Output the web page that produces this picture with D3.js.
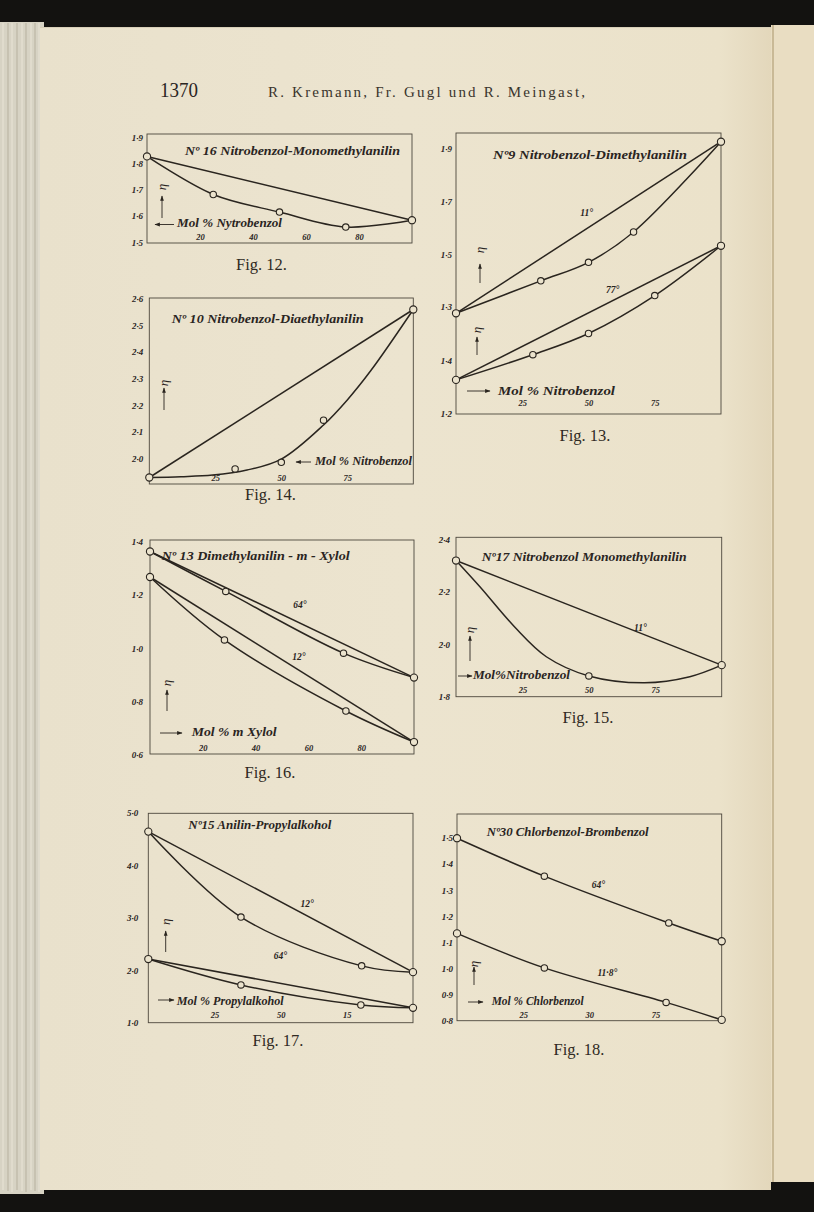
<!DOCTYPE html>
<html><head><meta charset="utf-8">
<script src="https://cdn.jsdelivr.net/npm/d3@7"></script>
<style>
body{margin:0;background:#141210;}
svg{display:block;}
</style>
</head><body>
<svg id="c" width="814" height="1212"></svg>
<script>
// ---------------- DATA (read from the scanned page) ----------------
// Fig. 12  — Nº 16 Nitrobenzol-Monomethylanilin
const fig12X   = [0, 25, 50, 75, 100];
const fig12Eta = [1.826, 1.681, 1.614, 1.557, 1.583];
const fig12YTicks = [1.5, 1.6, 1.7, 1.8, 1.9];
const fig12YLabels = ["1·5", "1·6", "1·7", "1·8", "1·9"];
const fig12XTicks = [20, 40, 60, 80];
const fig12XLabels = ["20", "40", "60", "80"];

// Fig. 13 — Nº9 Nitrobenzol-Dimethylanilin (two temperatures, two printed scales)
const fig13X11   = [0, 32, 50, 67, 100];
const fig13Eta11 = [1.275, 1.398, 1.468, 1.583, 1.925];
const fig13X77   = [0, 29, 50, 75, 100];
const fig13Eta77 = [1.325, 1.42, 1.50, 1.643, 1.831];
const fig13YTicksHigh = [1.3, 1.5, 1.7, 1.9];
const fig13YLabelsHigh = ["1·3", "1·5", "1·7", "1·9"];
const fig13YTicksLow = [1.2, 1.4];
const fig13YLabelsLow = ["1·2", "1·4"];
const fig13XTicks = [25, 50, 75];
const fig13XLabels = ["25", "50", "75"];

// Fig. 14 — Nº 10 Nitrobenzol-Diaethylanilin
const fig14X   = [0, 32.5, 50, 66, 100];
const fig14Eta = [1.928, 1.96, 1.985, 2.143, 2.558];
const fig14CurveX   = [0, 12, 24, 37, 50, 66, 75, 84, 100];
const fig14CurveEta = [1.928, 1.931, 1.937, 1.956, 1.997, 2.125, 2.219, 2.33, 2.558];
const fig14YTicks = [2.0, 2.1, 2.2, 2.3, 2.4, 2.5, 2.6];
const fig14YLabels = ["2·0", "2·1", "2·2", "2·3", "2·4", "2·5", "2·6"];
const fig14XTicks = [25, 50, 75];
const fig14XLabels = ["25", "50", "75"];

// Fig. 15 — Nº17 Nitrobenzol Monomethylanilin
const fig15X   = [0, 50, 100];
const fig15Eta = [2.318, 1.879, 1.92];
const fig15CurveX   = [0, 9, 22, 34, 50, 71, 88, 100];
const fig15CurveEta = [2.318, 2.218, 2.066, 1.952, 1.879, 1.853, 1.876, 1.92];
const fig15YTicks = [1.8, 2.0, 2.2, 2.4];
const fig15YLabels = ["1·8", "2·0", "2·2", "2·4"];
const fig15XTicks = [25, 50, 75];
const fig15XLabels = ["25", "50", "75"];

// Fig. 16 — Nº 13 Dimethylanilin - m - Xylol
const fig16X64   = [0, 28.7, 73.3, 100];
const fig16Eta64 = [1.363, 1.2125, 0.98, 0.888];
const fig16X12   = [0, 28.2, 74.2, 100];
const fig16Eta12 = [1.267, 1.030, 0.762, 0.645];
const fig16YTicks = [0.6, 0.8, 1.0, 1.2, 1.4];
const fig16YLabels = ["0·6", "0·8", "1·0", "1·2", "1·4"];
const fig16XTicks = [20, 40, 60, 80];
const fig16XLabels = ["20", "40", "60", "80"];

// Fig. 17 — Nº15 Anilin-Propylalkohol
const fig17X12   = [0, 35, 80.6, 100];
const fig17Eta12 = [4.64, 3.01, 2.08, 1.96];
const fig17X64   = [0, 35, 80.3, 100];
const fig17Eta64 = [2.21, 1.716, 1.334, 1.28];
const fig17YTicks = [1, 2, 3, 4, 5];
const fig17YLabels = ["1·0", "2·0", "3·0", "4·0", "5·0"];
const fig17XTicks = [25, 50, 75];
const fig17XLabels = ["25", "50", "15"];

// Fig. 18 — Nº30 Chlorbenzol-Brombenzol
const fig18X64   = [0, 33, 80, 100];
const fig18Eta64 = [1.498, 1.353, 1.174, 1.104];
const fig18X118   = [0, 33, 79, 100];
const fig18Eta118 = [1.134, 1.002, 0.870, 0.803];
const fig18YTicks = [0.8, 0.9, 1.0, 1.1, 1.2, 1.3, 1.4, 1.5];
const fig18YLabels = ["0·8", "0·9", "1·0", "1·1", "1·2", "1·3", "1·4", "1·5"];
const fig18XTicks = [25, 50, 75];
const fig18XLabels = ["25", "30", "75"];

// ---------------- PAGE ----------------
const INK = "#2a251f";
const BOX = "#4d473d";
const PAPER = "#ebe3cd";
const FONT = '"Liberation Serif","DejaVu Serif",serif';

const svg = d3.select("#c");
const defs = svg.append("defs");
defs.append("marker").attr("id", "ah").attr("viewBox", "0 0 10 10")
  .attr("refX", 9).attr("refY", 5).attr("markerWidth", 6).attr("markerHeight", 6)
  .attr("orient", "auto")
  .append("path").attr("d", "M0,1.5 L10,5 L0,8.5 Z").attr("fill", INK);
const pg = defs.append("linearGradient").attr("id", "pg").attr("x1", 0).attr("x2", 1);
pg.append("stop").attr("offset", "0%").attr("stop-color", "#e9e1cc");
pg.append("stop").attr("offset", "50%").attr("stop-color", "#ece4cf");
pg.append("stop").attr("offset", "93%").attr("stop-color", "#ebe2ca");
pg.append("stop").attr("offset", "100%").attr("stop-color", "#e3d7bb");

// dark surround
svg.append("rect").attr("width", 814).attr("height", 1212).attr("fill", "#131210");
// stacked page edges on the left
svg.append("rect").attr("x", 0).attr("y", 22).attr("width", 44).attr("height", 1172).attr("fill", "#d7d3c4");
[3, 8, 12, 17, 22, 26, 31, 35, 39].forEach((lx, i) => {
  svg.append("line").attr("x1", lx).attr("x2", lx).attr("y1", 23).attr("y2", 1190 + (i % 3))
    .attr("stroke", i % 2 ? "#bcb7a6" : "#e6e2d4").attr("stroke-width", 1.2);
});
// right neighbouring page
svg.append("rect").attr("x", 771).attr("y", 25).attr("width", 43).attr("height", 1157).attr("fill", "#e9ddc2");
svg.append("line").attr("x1", 773).attr("x2", 773).attr("y1", 25).attr("y2", 1182).attr("stroke", "#c9b996").attr("stroke-width", 2);
// main page
svg.append("rect").attr("x", 40).attr("y", 27).attr("width", 731).attr("height", 1163).attr("fill", "url(#pg)");
svg.append("line").attr("x1", 40).attr("x2", 771).attr("y1", 27.5).attr("y2", 27.5).attr("stroke", "#d8cfb8").attr("stroke-width", 1);

// header
svg.append("text").attr("x", 160).attr("y", 97).attr("font-family", FONT).attr("font-size", 20)
  .attr("fill", INK).attr("textLength", 38).attr("lengthAdjust", "spacingAndGlyphs").text("1370");
svg.append("text").attr("x", 268).attr("y", 97).attr("font-family", FONT).attr("font-size", 15)
  .attr("fill", "#3a342c").attr("textLength", 317).attr("lengthAdjust", "spacing")
  .text("R. Kremann, Fr. Gugl und R. Meingast,");

// ---------------- PANELS ----------------
const panels = [
  { box: { l: 147, r: 412, t: 134, b: 243 },
    y: { m: { domain: [1.5, 1.9], range: [242, 137] } },
    yTicks: [{ scale: "m", values: fig12YTicks, labels: fig12YLabels }], yGap: 4,
    xTicks: { values: fig12XTicks, labels: fig12XLabels, offset: 6 },
    series: [{ scale: "m", x: fig12X, y: fig12Eta, straight: true }],
    temps: [],
    title: { text: "Nº 16 Nitrobenzol-Monomethylanilin", x: 185, y: 155, w: 215 },
    axis: { text: "Mol % Nytrobenzol", x: 177, y: 227, w: 105, a1: 174, a2: 155, ay: 224.5 },
    etas: [{ x: 162, y: 187, a1: 218, a2: 196 }],
    caption: { text: "Fig. 12.", x: 261.5, y: 270 } },

  { box: { l: 456, r: 721, t: 133, b: 414 },
    y: { h: { domain: [1.3, 1.9], range: [306.7, 148.3] }, l: { domain: [1.2, 1.4], range: [413, 360] } },
    yTicks: [{ scale: "h", values: fig13YTicksHigh, labels: fig13YLabelsHigh },
             { scale: "l", values: fig13YTicksLow, labels: fig13YLabelsLow }], yGap: 4,
    xTicks: { values: fig13XTicks, labels: fig13XLabels, offset: 11 },
    series: [{ scale: "h", x: fig13X11, y: fig13Eta11, straight: true },
             { scale: "l", x: fig13X77, y: fig13Eta77, straight: true }],
    temps: [{ text: "11°", x: 49.3, y: 1.657, scale: "h" }, { text: "77°", x: 59.1, y: 1.664, scale: "l" }],
    title: { text: "Nº9 Nitrobenzol-Dimethylanilin", x: 493, y: 159, w: 194 },
    axis: { text: "Mol % Nitrobenzol", x: 498, y: 394.5, w: 117, a1: 467, a2: 490, ay: 391, fs: 11.5 },
    etas: [{ x: 480, y: 250, a1: 283, a2: 264 }, { x: 477, y: 330, a1: 355, a2: 337 }],
    caption: { text: "Fig. 13.", x: 585, y: 441 } },

  { box: { l: 149.3, r: 413.3, t: 298, b: 484 },
    y: { m: { domain: [2.0, 2.6], range: [458.3, 298.3] } },
    yTicks: [{ scale: "m", values: fig14YTicks, labels: fig14YLabels }], yGap: 6,
    xTicks: { values: fig14XTicks, labels: fig14XLabels, offset: 6 },
    series: [{ scale: "m", x: fig14X, y: fig14Eta, cx: fig14CurveX, cy: fig14CurveEta, straight: true }],
    temps: [],
    title: { text: "Nº 10 Nitrobenzol-Diaethylanilin", x: 171.7, y: 323, w: 192 },
    axis: { text: "Mol % Nitrobenzol", x: 315, y: 465, w: 97, a1: 311, a2: 296, ay: 462 },
    etas: [{ x: 164, y: 383, a1: 410, a2: 388 }],
    caption: { text: "Fig. 14.", x: 270.5, y: 500 } },

  { box: { l: 456, r: 721.7, t: 537.3, b: 696.7 },
    y: { m: { domain: [1.8, 2.4], range: [696.7, 539] } },
    yTicks: [{ scale: "m", values: fig15YTicks, labels: fig15YLabels }], yGap: 6,
    xTicks: { values: fig15XTicks, labels: fig15XLabels, offset: 7 },
    series: [{ scale: "m", x: fig15X, y: fig15Eta, cx: fig15CurveX, cy: fig15CurveEta, straight: true }],
    temps: [{ text: "11°", x: 69.4, y: 2.061, scale: "m" }],
    title: { text: "Nº17 Nitrobenzol Monomethylanilin", x: 481.7, y: 561, w: 205 },
    axis: { text: "Mol%Nitrobenzol", x: 473, y: 679, w: 97, a1: 458, a2: 472, ay: 676 },
    etas: [{ x: 470, y: 630, a1: 661, a2: 636 }],
    caption: { text: "Fig. 15.", x: 588, y: 723 } },

  { box: { l: 150, r: 414, t: 540, b: 754 },
    y: { m: { domain: [0.6, 1.4], range: [754, 541.7] } },
    yTicks: [{ scale: "m", values: fig16YTicks, labels: fig16YLabels }], yGap: 7,
    xTicks: { values: fig16XTicks, labels: fig16XLabels, offset: 6 },
    series: [{ scale: "m", x: fig16X64, y: fig16Eta64, straight: true },
             { scale: "m", x: fig16X12, y: fig16Eta12, straight: true }],
    temps: [{ text: "64°", x: 56.8, y: 1.163, scale: "m" }, { text: "12°", x: 56.4, y: 0.968, scale: "m" }],
    title: { text: "Nº 13 Dimethylanilin - m - Xylol", x: 161.7, y: 560, w: 188 },
    axis: { text: "Mol % m Xylol", x: 191.7, y: 736, w: 85, a1: 160, a2: 182, ay: 733 },
    etas: [{ x: 167, y: 683, a1: 711, a2: 690 }],
    caption: { text: "Fig. 16.", x: 270, y: 778 } },

  { box: { l: 148.3, r: 413, t: 813.3, b: 1022.7 },
    y: { m: { domain: [1, 5], range: [1022.5, 812.7] } },
    yTicks: [{ scale: "m", values: fig17YTicks, labels: fig17YLabels }], yGap: 10,
    xTicks: { values: fig17XTicks, labels: fig17XLabels, offset: 8 },
    series: [{ scale: "m", x: fig17X12, y: fig17Eta12, straight: true },
             { scale: "m", x: fig17X64, y: fig17Eta64, straight: true }],
    temps: [{ text: "12°", x: 60, y: 3.26, scale: "m" }, { text: "64°", x: 49.9, y: 2.27, scale: "m" }],
    title: { text: "Nº15 Anilin-Propylalkohol", x: 188.3, y: 829, w: 143 },
    axis: { text: "Mol % Propylalkohol", x: 176.7, y: 1005, w: 107, a1: 158, a2: 174, ay: 1000 },
    etas: [{ x: 165.7, y: 921.7, a1: 952, a2: 931 }],
    caption: { text: "Fig. 17.", x: 278, y: 1046 } },

  { box: { l: 457, r: 721.7, t: 814, b: 1020.7 },
    y: { m: { domain: [0.8, 1.5], range: [1020.7, 837.7] } },
    yTicks: [{ scale: "m", values: fig18YTicks, labels: fig18YLabels }], yGap: 4,
    xTicks: { values: fig18XTicks, labels: fig18XLabels, offset: 6 },
    series: [{ scale: "m", x: fig18X64, y: fig18Eta64, straight: false },
             { scale: "m", x: fig18X118, y: fig18Eta118, straight: false }],
    temps: [{ text: "64°", x: 53.4, y: 1.319, scale: "m" }, { text: "11·8°", x: 56.8, y: 0.982, scale: "m" }],
    title: { text: "Nº30 Chlorbenzol-Brombenzol", x: 486.7, y: 836, w: 162 },
    axis: { text: "Mol % Chlorbenzol", x: 491.7, y: 1005, w: 92, a1: 468, a2: 483, ay: 1002 },
    etas: [{ x: 474, y: 964, a1: 985, a2: 967 }],
    caption: { text: "Fig. 18.", x: 579, y: 1055 } }
];

function drawPanel(p) {
  const g = svg.append("g");
  const x = d3.scaleLinear().domain([0, 100]).range([p.box.l, p.box.r]);
  const ys = {};
  Object.keys(p.y).forEach(k => { ys[k] = d3.scaleLinear().domain(p.y[k].domain).range(p.y[k].range); });

  // frame
  g.append("rect").attr("x", p.box.l).attr("y", p.box.t)
    .attr("width", p.box.r - p.box.l).attr("height", p.box.b - p.box.t)
    .attr("fill", "none").attr("stroke", BOX).attr("stroke-width", 0.9);

  // y tick labels via axes
  p.yTicks.forEach(t => {
    const ax = d3.axisLeft(ys[t.scale]).tickValues(t.values)
      .tickFormat((d, i) => t.labels[i]).tickSize(0).tickPadding(p.yGap);
    const ag = g.append("g").attr("transform", `translate(${p.box.l},0)`).call(ax);
    ag.select(".domain").remove();
    ag.selectAll("text").attr("font-family", FONT).attr("font-style", "italic")
      .attr("font-weight", "bold").attr("font-size", 9).attr("fill", INK).attr("dy", "0.35em");
  });

  // x tick labels via axis (inside the frame, just above its bottom edge)
  const xa = d3.axisBottom(x).tickValues(p.xTicks.values)
    .tickFormat((d, i) => p.xTicks.labels[i]).tickSize(0).tickPadding(0);
  const xg = g.append("g").attr("transform", `translate(0,${p.box.b - p.xTicks.offset})`).call(xa);
  xg.select(".domain").remove();
  xg.selectAll("text").attr("y", 0).attr("dy", "0.35em").attr("font-family", FONT)
    .attr("font-style", "italic").attr("font-weight", "bold").attr("font-size", 8.5).attr("fill", INK);

  // series
  p.series.forEach(s => {
    const yS = ys[s.scale];
    const pts = s.x.map((v, i) => [v, s.y[i]]);
    const n = pts.length - 1;
    if (s.straight) {
      g.append("line").attr("x1", x(pts[0][0])).attr("y1", yS(pts[0][1]))
        .attr("x2", x(pts[n][0])).attr("y2", yS(pts[n][1]))
        .attr("stroke", INK).attr("stroke-width", 1.5);
    }
    const cpts = s.cx ? s.cx.map((v, i) => [v, s.cy[i]]) : pts;
    const line = d3.line().x(d => x(d[0])).y(d => yS(d[1])).curve(d3.curveCatmullRom.alpha(0.5));
    g.append("path").attr("d", line(cpts)).attr("fill", "none")
      .attr("stroke", INK).attr("stroke-width", 1.5);
    g.selectAll(null).data(pts).enter().append("circle")
      .attr("cx", d => x(d[0])).attr("cy", d => yS(d[1]))
      .attr("r", (d, i) => (i === 0 || i === n) ? 3.6 : 3.2)
      .attr("fill", PAPER).attr("stroke", INK).attr("stroke-width", 1.1);
  });

  // temperature labels
  p.temps.forEach(t => {
    g.append("text").attr("x", x(t.x)).attr("y", ys[t.scale](t.y)).attr("dy", "0.35em")
      .attr("text-anchor", "middle").attr("font-family", FONT).attr("font-style", "italic")
      .attr("font-weight", "bold").attr("font-size", 9.5).attr("fill", INK).text(t.text);
  });

  // title
  g.append("text").attr("x", p.title.x).attr("y", p.title.y).attr("font-family", FONT)
    .attr("font-style", "italic").attr("font-weight", "bold").attr("font-size", 12.5)
    .attr("fill", INK).attr("textLength", p.title.w).attr("lengthAdjust", "spacingAndGlyphs")
    .text(p.title.text);

  // x-axis caption with arrow
  g.append("text").attr("x", p.axis.x).attr("y", p.axis.y).attr("font-family", FONT)
    .attr("font-style", "italic").attr("font-weight", "bold").attr("font-size", p.axis.fs || 12)
    .attr("fill", INK).attr("textLength", p.axis.w).attr("lengthAdjust", "spacingAndGlyphs")
    .text(p.axis.text);
  g.append("line").attr("x1", p.axis.a1).attr("x2", p.axis.a2).attr("y1", p.axis.ay).attr("y2", p.axis.ay)
    .attr("stroke", INK).attr("stroke-width", 0.9).attr("marker-end", "url(#ah)");

  // eta symbol with upward arrow
  p.etas.forEach(e => {
    g.append("text").attr("transform", `translate(${e.x},${e.y}) rotate(-90)`)
      .attr("text-anchor", "middle").attr("dy", "0.3em").attr("font-family", FONT)
      .attr("font-style", "italic").attr("font-size", 13).attr("fill", INK).text("η");
    g.append("line").attr("x1", e.x).attr("x2", e.x).attr("y1", e.a1).attr("y2", e.a2)
      .attr("stroke", INK).attr("stroke-width", 0.9).attr("marker-end", "url(#ah)");
  });

  // figure caption
  g.append("text").attr("x", p.caption.x).attr("y", p.caption.y).attr("text-anchor", "middle")
    .attr("font-family", FONT).attr("font-size", 16.5).attr("fill", "#2f2a23").text(p.caption.text);
}

panels.forEach(drawPanel);
</script>
</body></html>
